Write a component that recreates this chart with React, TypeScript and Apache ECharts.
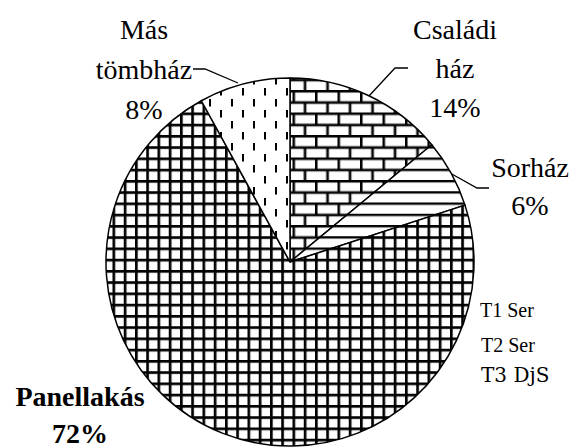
import { useEffect, useRef } from "react";
import * as echarts from "echarts";

const categories = ["Családi\nház", "Sorház", "Panellakás", "Más\ntömbház"];
const shares = [14, 6, 72, 8];

const S = 4;
function tile(w: number, h: number, draw: (ctx: CanvasRenderingContext2D) => void) {
  const c = document.createElement("canvas");
  c.width = Math.round(w * S);
  c.height = Math.round(h * S);
  const ctx = c.getContext("2d") as CanvasRenderingContext2D;
  ctx.fillStyle = "#fff";
  ctx.fillRect(0, 0, c.width, c.height);
  ctx.scale(S, S);
  ctx.fillStyle = "#000";
  draw(ctx);
  return { image: c, repeat: "repeat", imageWidth: w, imageHeight: h } as any;
}

export default function App() {
  const ref = useRef<HTMLDivElement>(null);
  const ref2 = useRef<HTMLDivElement>(null);
  useEffect(() => {
    if (!ref.current || !ref2.current) return;
    const chart = echarts.init(ref.current, undefined, { renderer: "svg" });
    const chart2 = echarts.init(ref2.current, undefined, { renderer: "svg" });

    const brick = tile(22.5, 22.5, (c) => {
      c.fillRect(0, 0, 22.5, 2.6);
      c.fillRect(0, 11.25, 22.5, 2.6);
      c.fillRect(0, 0, 2.6, 11.25);
      c.fillRect(11.25, 11.25, 2.6, 11.25);
    });
    const hlines = tile(11.25, 11.25, (c) => {
      c.fillRect(0, 0, 11.25, 2.4);
    });
    const grid = tile(11.25, 11.25, (c) => {
      c.fillRect(0, 0, 2.7, 11.25);
      c.fillRect(0, 0, 11.25, 2.7);
    });
    const dashes = tile(22, 22, (c) => {
      c.fillRect(0, 0, 2, 7.5);
      c.fillRect(11, 11, 2, 7.5);
    });
    const fills = [brick, hlines, grid, dashes];

    const layouts: { x: number; top: number; lh: number; bold?: boolean; pts?: number[][] }[] = [
      { x: 455, top: 10, lh: 39, pts: [[369, 96], [395, 68], [408, 68]] },
      { x: 530, top: 148.5, lh: 38, pts: [[450, 173], [477, 188], [489, 188]] },
      { x: 80, top: 378, lh: 37, bold: true },
      { x: 144, top: 9, lh: 40, pts: [[238, 83], [205, 69], [193, 69]] },
    ];

    const data = categories.map((name, i) => ({
      name,
      value: shares[i],
      itemStyle: { color: fills[i] },
    }));

    const graphics: any[] = [];
    categories.forEach((name, i) => {
      const l = layouts[i];
      graphics.push({
        type: "text",
        x: l.x,
        y: l.top,
        style: {
          text: `${name}\n${shares[i]}%`,
          fontFamily: "Liberation Serif",
          fontSize: 28,
          fontWeight: l.bold ? "bold" : undefined,
          lineHeight: l.lh,
          fill: "#000",
          align: "center",
          verticalAlign: "top",
        },
      });
      if (l.pts) {
        graphics.push({
          type: "polyline",
          shape: { points: l.pts },
          style: { stroke: "#000", lineWidth: 1.3, fill: "none" },
        });
      }
    });
    graphics.push({ type: "text", x: 480, y: 300, style: { text: "T1 Ser", fontFamily: "Liberation Serif", fontSize: 20, fill: "#000" } });

    chart.setOption({
      animation: false,
      series: [
        {
          type: "pie",
          center: [290, 262],
          radius: 184,
          startAngle: 90,
          clockwise: true,
          silent: true,
          itemStyle: { borderColor: "#000", borderWidth: 1.5 },
          label: { show: false },
          labelLine: { show: false },
          emphasis: { disabled: true },
          data,
        },
      ],
      graphic: graphics,
    });
    chart2.setOption({
      animation: false,
      graphic: [
        { type: "text", x: 5, y: 5, style: { text: "T2 Ser", fontFamily: "Liberation Serif", fontSize: 20, fill: "#000" } },
        { type: "text", x: 5, y: 35, style: { text: "T3 DjS", fontFamily: "DejaVu Serif", fontSize: 20, fill: "#000" } },
      ],
    });
    return () => {
      chart.dispose();
      chart2.dispose();
    };
  }, []);
  return (
    <>
      <div
        ref={ref}
        style={{ position: "fixed", left: 0, top: 0, width: 576, height: 448, background: "#fff" }}
      />
      <div
        ref={ref2}
        style={{ position: "fixed", left: 476, top: 330, width: 100, height: 70 }}
      />
    </>
  );
}
